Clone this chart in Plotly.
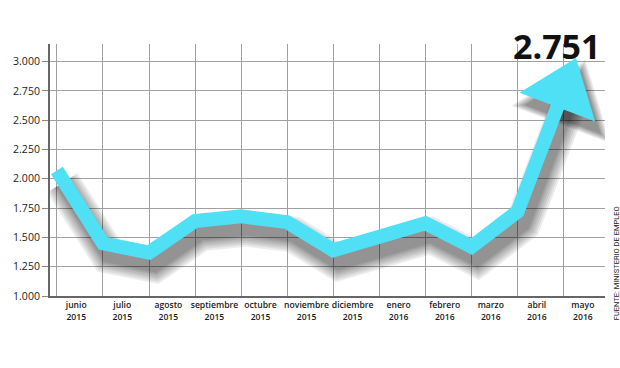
import plotly.graph_objects as go

months = ["junio", "julio", "agosto", "septiembre", "octubre", "noviembre",
          "diciembre", "enero", "febrero", "marzo", "abril", "mayo"]
years = ["2015"] * 7 + ["2016"] * 5
values = [2070, 1450, 1370, 1640, 1680, 1630, 1390, 1520, 1620, 1420, 1720, 2751]
y_ticks = [1000, 1250, 1500, 1750, 2000, 2250, 2500, 2750, 3000]
highlight_label = "2.751"
source_text = "FUENTE: MINISTERIO DE EMPLEO"

x_idx = list(range(len(months)))
tick_text = [f"{m}<br>{y}" for m, y in zip(months, years)]

CYAN = "#4FE0F6"
XR = [-0.15, 11.9]
YR = [1000, 3150]
arrow_sizes = [0] * (len(values) - 1) + [70]

fig = go.Figure()

# soft shadow drawn on hidden, slightly shifted axes (x/y)
for w in [36, 32, 28, 24, 20, 17, 14]:
    fig.add_trace(go.Scatter(
        x=x_idx, y=values, xaxis="x", yaxis="y", mode="lines+markers",
        line=dict(color="rgba(0,0,0,0.075)", width=w),
        marker=dict(size=[s + w - 14 if s else 0 for s in arrow_sizes],
                    symbol="triangle-up", angleref="previous", opacity=1,
                    color="rgba(0,0,0,0.075)", line=dict(width=0)),
        hoverinfo="skip", showlegend=False))

# main cyan line with arrow head
fig.add_trace(go.Scatter(
    x=x_idx, y=values, xaxis="x2", yaxis="y2", mode="lines+markers",
    line=dict(color=CYAN, width=14),
    marker=dict(size=arrow_sizes, symbol="triangle-up", angleref="previous",
                color=CYAN, opacity=1, line=dict(width=0)),
    opacity=1, showlegend=False))

fig.add_annotation(x=x_idx[-1], y=values[-1], xref="x2", yref="y2",
                   text=f"<b>{highlight_label}</b>", showarrow=False,
                   xshift=-7, yshift=45,
                   font=dict(family="Open Sans", size=34, color="#111111"))
fig.add_annotation(x=1.008, y=0.13, xref="paper", yref="paper",
                   text=source_text, showarrow=False, textangle=-90,
                   xanchor="left", yanchor="middle",
                   font=dict(family="Liberation Sans Narrow, Roboto", size=7.5,
                             color="#222222"))

fig.update_layout(
    width=620, height=368,
    margin=dict(l=50, r=15, t=44, b=72),
    paper_bgcolor="white", plot_bgcolor="white",
    separators=",.",
    font=dict(family="Open Sans", color="#222222"),
    xaxis=dict(range=[XR[0] - 0.12, XR[1] - 0.12], visible=False),
    yaxis=dict(range=[YR[0] + 105, YR[1] + 105], visible=False),
    xaxis2=dict(overlaying="x", range=XR, tickmode="array",
                tickvals=[i + 0.42 for i in x_idx], ticktext=tick_text,
                tickangle=0,
                showgrid=False, showline=True, linecolor="#666666", linewidth=2,
                ticks="", tickfont=dict(size=8.6, color="#1a1a1a", weight=600),
                minor=dict(tickmode="linear", tick0=0, dtick=1, showgrid=True,
                           gridcolor="#a0a0a0", gridwidth=1.3),
                zeroline=False),
    yaxis2=dict(overlaying="y", range=YR, tickmode="array", tickvals=y_ticks,
                tickformat=",.0f", showgrid=True, gridcolor="#a0a0a0",
                gridwidth=1.3, showline=True, linecolor="#666666", linewidth=2,
                ticks="outside", ticklen=6, tickcolor="#888888",
                tickfont=dict(size=10.5, color="#222222"), zeroline=False),
)

fig.write_html("out.html")
